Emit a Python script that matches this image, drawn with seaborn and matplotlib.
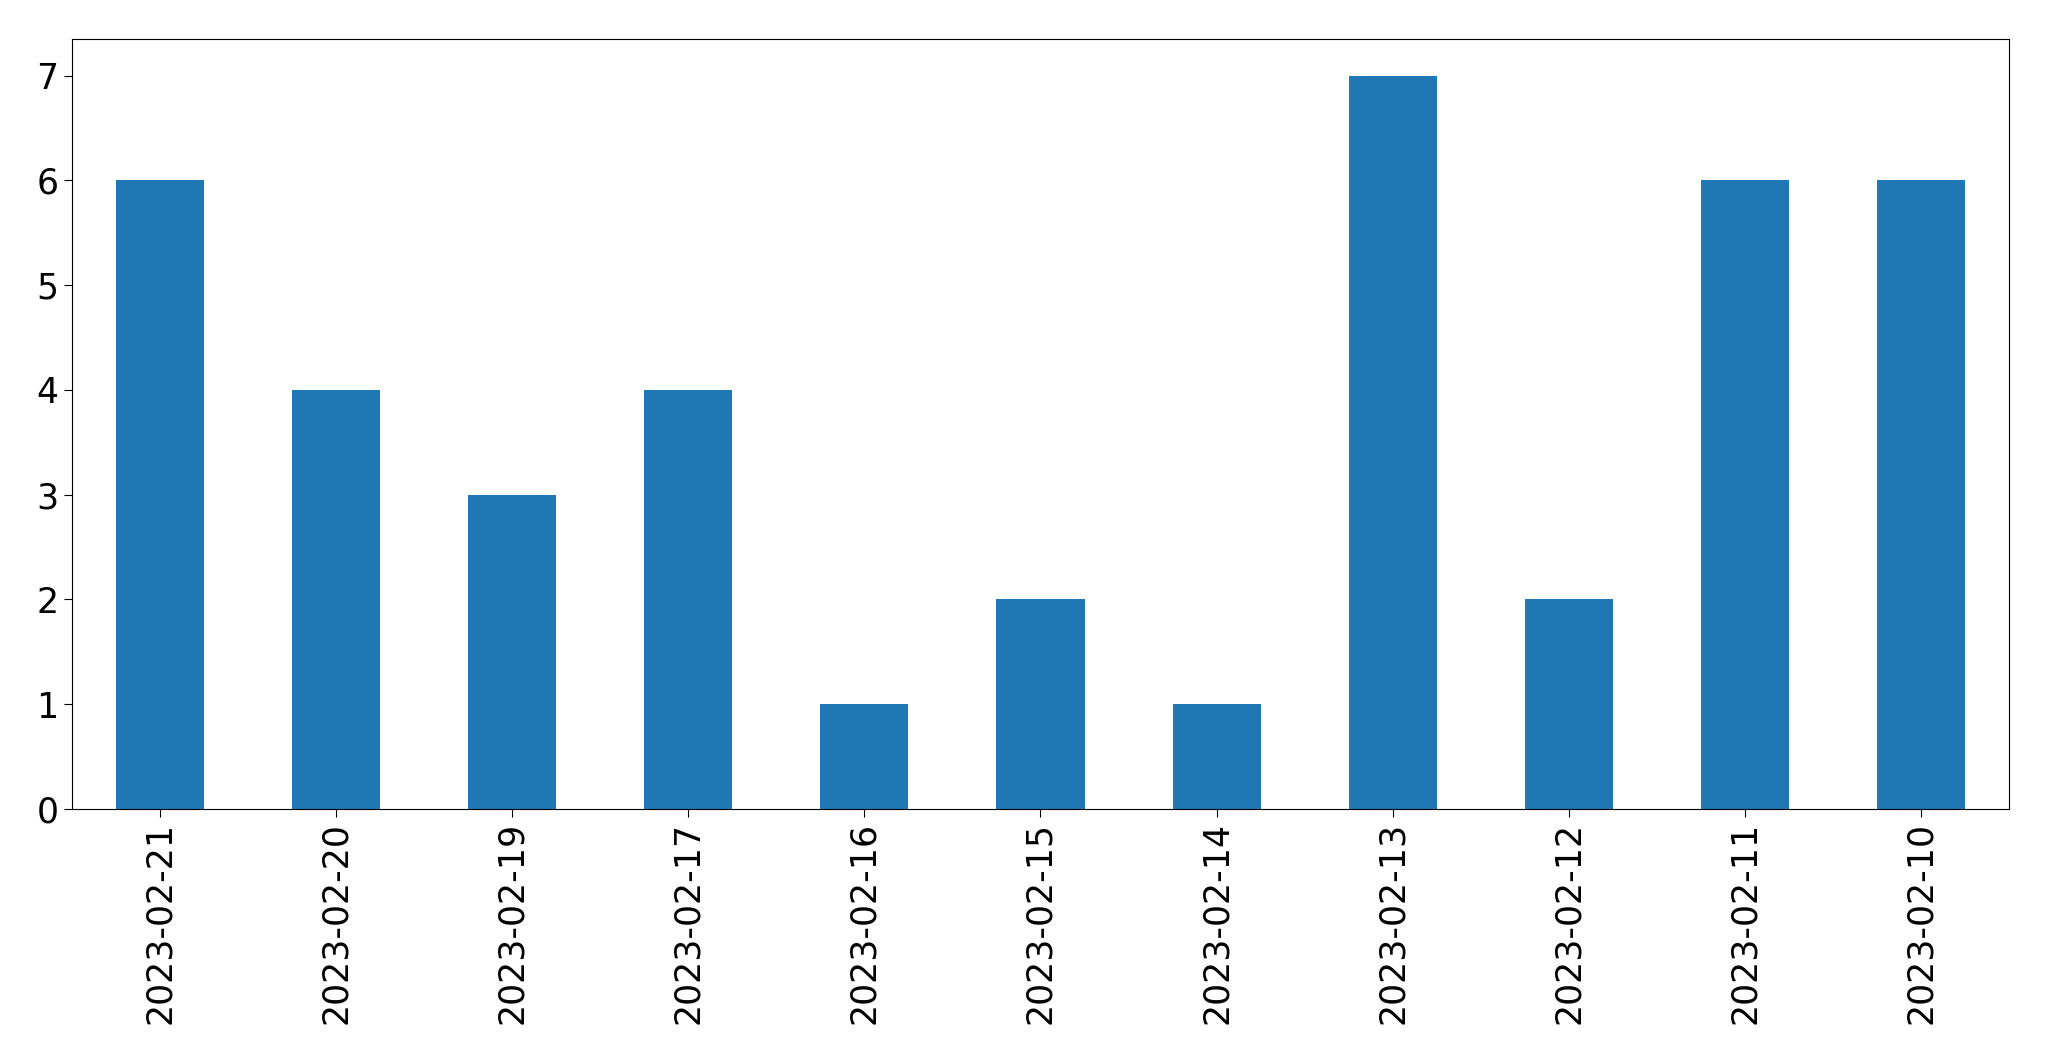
import matplotlib
matplotlib.use("Agg")
import matplotlib.pyplot as plt
import pandas as pd
import seaborn as sns

dates = [
    "2023-02-21", "2023-02-20", "2023-02-19", "2023-02-17", "2023-02-16",
    "2023-02-15", "2023-02-14", "2023-02-13", "2023-02-12", "2023-02-11",
    "2023-02-10",
]
counts = [6, 4, 3, 4, 1, 2, 1, 7, 2, 6, 6]


def main() -> None:
    df = pd.DataFrame({"date": dates, "count": counts})
    fig, ax = plt.subplots(figsize=(20.49, 10.61), dpi=100)
    sns.barplot(data=df, x="date", y="count", order=dates, color="#1f77b4",
                saturation=1, width=0.5, linewidth=0, ax=ax)
    ax.set_xlim(-0.5, len(dates) - 0.5)
    ax.set_ylim(0, 7.35)
    ax.set_xlabel("")
    ax.set_ylabel("")
    ax.tick_params(axis="both", labelsize=25, length=6)
    ax.tick_params(axis="x", labelrotation=90)
    fig.subplots_adjust(left=0.0351, right=0.9805, top=0.9632, bottom=0.2375)
    fig.savefig("out.png", dpi=100)
    plt.close(fig)


if __name__ == "__main__":
    main()
